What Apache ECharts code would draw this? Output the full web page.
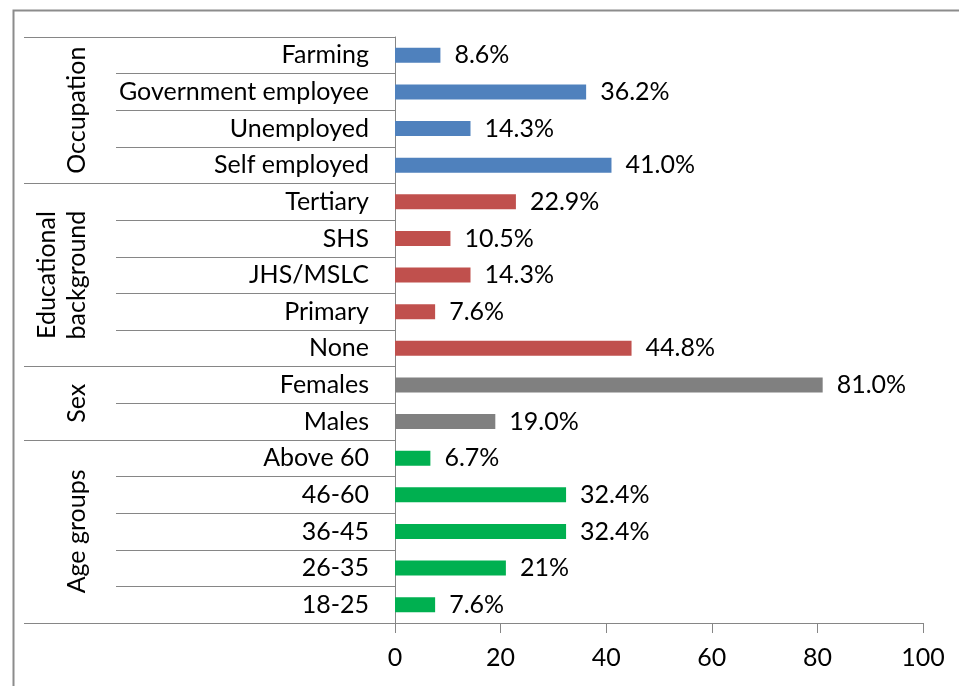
<!DOCTYPE html>
<html>
<head>
<meta charset="utf-8">
<script src="https://cdn.jsdelivr.net/npm/echarts@6/dist/echarts.min.js"></script>
<style>
  html, body { margin: 0; padding: 0; background: #fff; }
  #chart { width: 959px; height: 686px; }
</style>
</head>
<body>
<div id="chart"></div>
<script>
// categories top to bottom
var categories = ['Farming', 'Government employee', 'Unemployed', 'Self employed',
  'Tertiary', 'SHS', 'JHS/MSLC', 'Primary', 'None',
  'Females', 'Males',
  'Above 60', '46-60', '36-45', '26-35', '18-25'];
var values = [8.6, 36.2, 14.3, 41.0,
  22.9, 10.5, 14.3, 7.6, 44.8,
  81.0, 19.0,
  6.7, 32.4, 32.4, 21, 7.6];
var valueLabels = ['8.6%', '36.2%', '14.3%', '41.0%',
  '22.9%', '10.5%', '14.3%', '7.6%', '44.8%',
  '81.0%', '19.0%',
  '6.7%', '32.4%', '32.4%', '21%', '7.6%'];
var groupNames = ['Occupation', 'Educational\nbackground', 'Sex', 'Age groups'];
var groupSizes = [4, 5, 2, 5];
var groupColors = ['#4F81BD', '#C0504D', '#808080', '#00B050'];
var xTicks = [0, 20, 40, 60, 80, 100];

var FONT = 'Lato';
var FS = 25;
var LINE = '#868686';

// per-bar colour + group boundaries on a half-step scale
var barColors = [];
var halfSteps = [];
var boundaries = [0];
var pos = 0;
groupSizes.forEach(function (n, g) {
  for (var i = 0; i < n; i++) barColors.push(groupColors[g]);
  pos += n;
  boundaries.push(pos);
});
for (var h = 0; h <= categories.length * 2; h++) halfSteps.push('');
for (var g = 0; g < groupNames.length; g++) {
  halfSteps[boundaries[g] + boundaries[g + 1]] = groupNames[g];
}
var boundaryIdx = boundaries.map(function (b) { return b * 2; });

var chart = echarts.init(document.getElementById('chart'));
var option = {
  animation: false,
  textStyle: { fontFamily: FONT },
  graphic: [{
    type: 'rect',
    left: 11, top: 8,
    shape: { width: 1000, height: 1000 },
    style: { fill: 'none', stroke: '#8c8c8c', lineWidth: 2 }
  }],
  grid: { left: 395, top: 37, right: 36, bottom: 63, outerBoundsMode: 'none' },
  xAxis: {
    type: 'value',
    min: xTicks[0],
    max: xTicks[xTicks.length - 1],
    interval: xTicks[1] - xTicks[0],
    axisLine: { show: true, lineStyle: { color: LINE, width: 1 } },
    axisTick: { show: true, length: 10, lineStyle: { color: LINE } },
    splitLine: { show: false },
    axisLabel: { fontSize: FS, color: '#000', margin: 22, fontFamily: FONT }
  },
  yAxis: [{
    type: 'category',
    inverse: true,
    data: categories,
    axisLine: { show: true, lineStyle: { color: LINE, width: 1 } },
    axisTick: { show: true, length: 279, interval: 0, lineStyle: { color: LINE } },
    axisLabel: { fontSize: FS, color: '#000', margin: 26, interval: 0, fontFamily: FONT }
  }, {
    type: 'category',
    position: 'left',
    inverse: true,
    boundaryGap: false,
    data: halfSteps,
    axisLine: { show: false },
    axisTick: {
      show: true, length: 371,
      interval: function (idx) { return boundaryIdx.indexOf(idx) >= 0; },
      lineStyle: { color: LINE }
    },
    axisLabel: {
      rotate: 90, fontSize: FS, color: '#000', margin: 303, lineHeight: 30,
      fontFamily: FONT,
      interval: function (idx, val) { return val !== ''; }
    }
  }],
  series: [{
    type: 'bar',
    yAxisIndex: 0,
    barWidth: 15,
    data: values.map(function (v, i) {
      return { value: v, itemStyle: { color: barColors[i] } };
    }),
    label: {
      show: true,
      position: 'right',
      distance: 14,
      fontSize: FS,
      color: '#000',
      fontFamily: FONT,
      formatter: function (p) { return valueLabels[p.dataIndex]; }
    }
  }]
};
chart.setOption(option);
</script>
</body>
</html>
